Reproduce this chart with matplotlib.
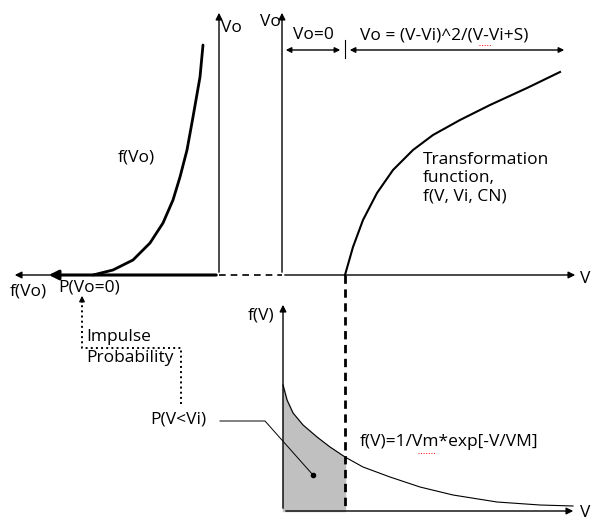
import numpy as np
import matplotlib.pyplot as plt

plt.rcParams['font.family'] = ['Open Sans', 'DejaVu Sans']

# curve points (pixel coordinates, y downward)
fvo_x = [93, 113, 133, 150, 163, 173, 180, 187, 193, 200, 203]
fvo_y = [275, 270, 260, 243, 223, 200, 177, 150, 117, 77, 45]

trans_x = [345, 353, 363, 377, 393, 413, 433, 460, 490, 527, 560]
trans_y = [275, 247, 220, 193, 170, 150, 135, 120, 105, 88, 72]

pdf_x = [283, 287, 293, 303, 317, 330, 345, 363, 390, 420, 453, 497, 540, 573]
pdf_y = [385, 400, 413, 425, 437, 447, 457, 467, 477, 487, 495, 502, 505, 506]

vi_x = 345

fig = plt.figure(figsize=(5.95, 5.2), dpi=100)
ax = fig.add_axes([0, 0, 1, 1])
ax.set_xlim(0, 595)
ax.set_ylim(520, 0)
ax.axis('off')

fs = 12.5
arr = dict(arrowstyle='-|>', color='black', lw=1, mutation_scale=10)

def arrow(x0, y0, x1, y1, **kw):
    p = dict(arr)
    p.update(kw)
    ax.annotate('', xy=(x1, y1), xytext=(x0, y0), arrowprops=p)

# upper left panel: f(Vo)
arrow(219, 275, 219, 10)
arrow(219, 275, 12, 275)
arrow(219, 275, 46, 275, lw=2.2, mutation_scale=14)
ax.plot(fvo_x, fvo_y, color='black', lw=2, solid_capstyle='round')
ax.plot([219, 282], [275, 275], color='black', lw=1.2, ls=(0, (4, 3)))
ax.text(221, 28, 'Vo', fontsize=fs, va='center')
ax.text(118, 157, 'f(Vo)', fontsize=fs, va='center')
ax.text(10, 292, 'f(Vo)', fontsize=fs, va='center')
ax.text(58, 288, 'P(Vo=0)', fontsize=fs, va='center')

# upper right panel: transformation
arrow(282, 275, 282, 10)
arrow(282, 275, 578, 275)
ax.plot(trans_x, trans_y, color='black', lw=1.5)
ax.text(260, 22, 'Vo', fontsize=fs, va='center')
ax.text(580, 279, 'V', fontsize=fs, va='center')
ax.plot([vi_x, vi_x], [40, 58], color='black', lw=0.8)
arrow(283, 50, 343, 50, arrowstyle='<|-|>', mutation_scale=8)
arrow(347, 50, 567, 50, arrowstyle='<|-|>', mutation_scale=8)
ax.text(313, 35, 'Vo=0', fontsize=fs, ha='center', va='center')
ax.text(360, 35, 'Vo = (V-Vi)^2/(V-Vi+S)', fontsize=fs, va='center')
ax.plot([479, 492], [45, 45], color='red', lw=0.7, ls=':')
ax.text(423, 178, 'Transformation\nfunction,\nf(V, Vi, CN)', fontsize=fs,
        va='center', linespacing=1.2)

# lower panel: pdf of V
arrow(283, 511, 283, 302)
arrow(283, 511, 576, 511)
ax.text(580, 513, 'V', fontsize=fs, va='center')
ax.text(248, 316, 'f(V)', fontsize=fs, va='center')
xs = np.array(pdf_x)
ys = np.array(pdf_y)
ax.plot(xs, ys, color='black', lw=0.8)
mask = xs <= vi_x
ax.fill_between(xs[mask], ys[mask], 511, color='#c0c0c0')
ax.plot([vi_x, vi_x], [275, 511], color='black', lw=2, ls=(0, (3, 2)))
ax.text(360, 442, 'f(V)=1/Vm*exp[-V/VM]', fontsize=fs, va='center')
ax.plot([418, 436], [453, 453], color='red', lw=0.7, ls=':')

# P(V<Vi) callout
ax.text(150, 420, 'P(V<Vi)', fontsize=fs, va='center')
ax.plot([220, 265, 313], [421, 421, 475], color='black', lw=0.7)
ax.plot(313, 475, 'o', color='black', ms=3)

# impulse probability dotted path
ax.plot([181, 181, 82, 82], [404, 348, 348, 300], color='black', lw=1.4, ls=':')
arrow(82, 305, 82, 293, mutation_scale=8)
ax.text(86, 337, 'Impulse', fontsize=fs, va='center')
ax.text(86, 358, 'Probability', fontsize=fs, va='center')

fig.savefig('out.png', dpi=100)
